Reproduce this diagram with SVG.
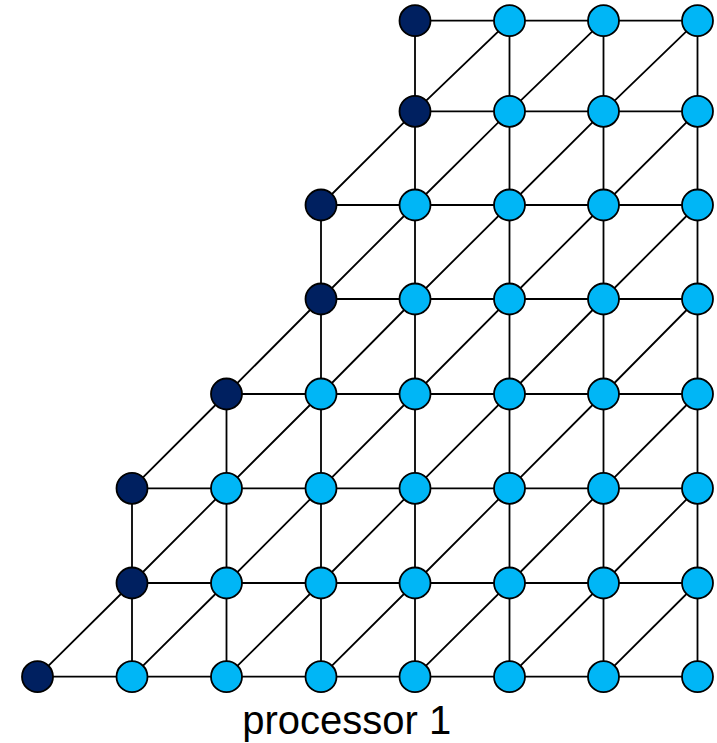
<svg xmlns="http://www.w3.org/2000/svg" width="717" height="743" viewBox="0 0 717 743">
<style>
.e{stroke:#000;stroke-width:1.8;fill:none}
.d{fill:#002060;stroke:#000;stroke-width:1.8}
.l{fill:#00B6F6;stroke:#000;stroke-width:1.8}
.t{font-family:"Liberation Sans",Arial,sans-serif;font-size:40px;fill:#000}
</style>
<rect width="717" height="743" fill="#fff"/>
<g id="connectors">
<!-- horizontals -->
<path class="e" d="M415,20.7H697.5M415,111.3H697.5M321,205H697.5M321,299H697.5M226.5,394H697.5M132,488.3H697.5M132,583H697.5M37.5,676.7H697.5"/>
<!-- verticals -->
<path class="e" d="M132,488.3V676.7M226.5,394V676.7M321,205V676.7M415,20.7V676.7M509.5,20.7V676.7M603.5,20.7V676.7M697.5,20.7V676.7"/>
<!-- diagonals -->
<path class="e" d="M37.5,676.7L132,583M132,676.7L226.5,583M226.5,676.7L321,583M321,676.7L415,583M415,676.7L509.5,583M509.5,676.7L603.5,583M603.5,676.7L697.5,583
M132,583L226.5,488.3M226.5,583L321,488.3M321,583L415,488.3M415,583L509.5,488.3M509.5,583L603.5,488.3M603.5,583L697.5,488.3
M132,488.3L226.5,394M226.5,488.3L321,394M321,488.3L415,394M415,488.3L509.5,394M509.5,488.3L603.5,394M603.5,488.3L697.5,394
M226.5,394L321,299M321,394L415,299M415,394L509.5,299M509.5,394L603.5,299M603.5,394L697.5,299
M321,299L415,205M415,299L509.5,205M509.5,299L603.5,205M603.5,299L697.5,205
M321,205L415,111.3M415,205L509.5,111.3M509.5,205L603.5,111.3M603.5,205L697.5,111.3
M415,111.3L509.5,20.7M509.5,111.3L603.5,20.7M603.5,111.3L697.5,20.7"/>
</g>
<g id="row0"><circle class="d" cx="415" cy="20.7" r="15.5"/><circle class="l" cx="509.5" cy="20.7" r="15.5"/><circle class="l" cx="603.5" cy="20.7" r="15.5"/><circle class="l" cx="697.5" cy="20.7" r="15.5"/></g>
<g id="row1"><circle class="d" cx="415" cy="111.3" r="15.5"/><circle class="l" cx="509.5" cy="111.3" r="15.5"/><circle class="l" cx="603.5" cy="111.3" r="15.5"/><circle class="l" cx="697.5" cy="111.3" r="15.5"/></g>
<g id="row2"><circle class="d" cx="321" cy="205" r="15.5"/><circle class="l" cx="415" cy="205" r="15.5"/><circle class="l" cx="509.5" cy="205" r="15.5"/><circle class="l" cx="603.5" cy="205" r="15.5"/><circle class="l" cx="697.5" cy="205" r="15.5"/></g>
<g id="row3"><circle class="d" cx="321" cy="299" r="15.5"/><circle class="l" cx="415" cy="299" r="15.5"/><circle class="l" cx="509.5" cy="299" r="15.5"/><circle class="l" cx="603.5" cy="299" r="15.5"/><circle class="l" cx="697.5" cy="299" r="15.5"/></g>
<g id="row4"><circle class="d" cx="226.5" cy="394" r="15.5"/><circle class="l" cx="321" cy="394" r="15.5"/><circle class="l" cx="415" cy="394" r="15.5"/><circle class="l" cx="509.5" cy="394" r="15.5"/><circle class="l" cx="603.5" cy="394" r="15.5"/><circle class="l" cx="697.5" cy="394" r="15.5"/></g>
<g id="row5"><circle class="d" cx="132" cy="488.3" r="15.5"/><circle class="l" cx="226.5" cy="488.3" r="15.5"/><circle class="l" cx="321" cy="488.3" r="15.5"/><circle class="l" cx="415" cy="488.3" r="15.5"/><circle class="l" cx="509.5" cy="488.3" r="15.5"/><circle class="l" cx="603.5" cy="488.3" r="15.5"/><circle class="l" cx="697.5" cy="488.3" r="15.5"/></g>
<g id="row6"><circle class="d" cx="132" cy="583" r="15.5"/><circle class="l" cx="226.5" cy="583" r="15.5"/><circle class="l" cx="321" cy="583" r="15.5"/><circle class="l" cx="415" cy="583" r="15.5"/><circle class="l" cx="509.5" cy="583" r="15.5"/><circle class="l" cx="603.5" cy="583" r="15.5"/><circle class="l" cx="697.5" cy="583" r="15.5"/></g>
<g id="row7"><circle class="d" cx="37.5" cy="676.7" r="15.5"/><circle class="l" cx="132" cy="676.7" r="15.5"/><circle class="l" cx="226.5" cy="676.7" r="15.5"/><circle class="l" cx="321" cy="676.7" r="15.5"/><circle class="l" cx="415" cy="676.7" r="15.5"/><circle class="l" cx="509.5" cy="676.7" r="15.5"/><circle class="l" cx="603.5" cy="676.7" r="15.5"/><circle class="l" cx="697.5" cy="676.7" r="15.5"/></g>
<g id="label"><text class="t" x="346.7" y="734" text-anchor="middle">processor 1</text></g>
</svg>
